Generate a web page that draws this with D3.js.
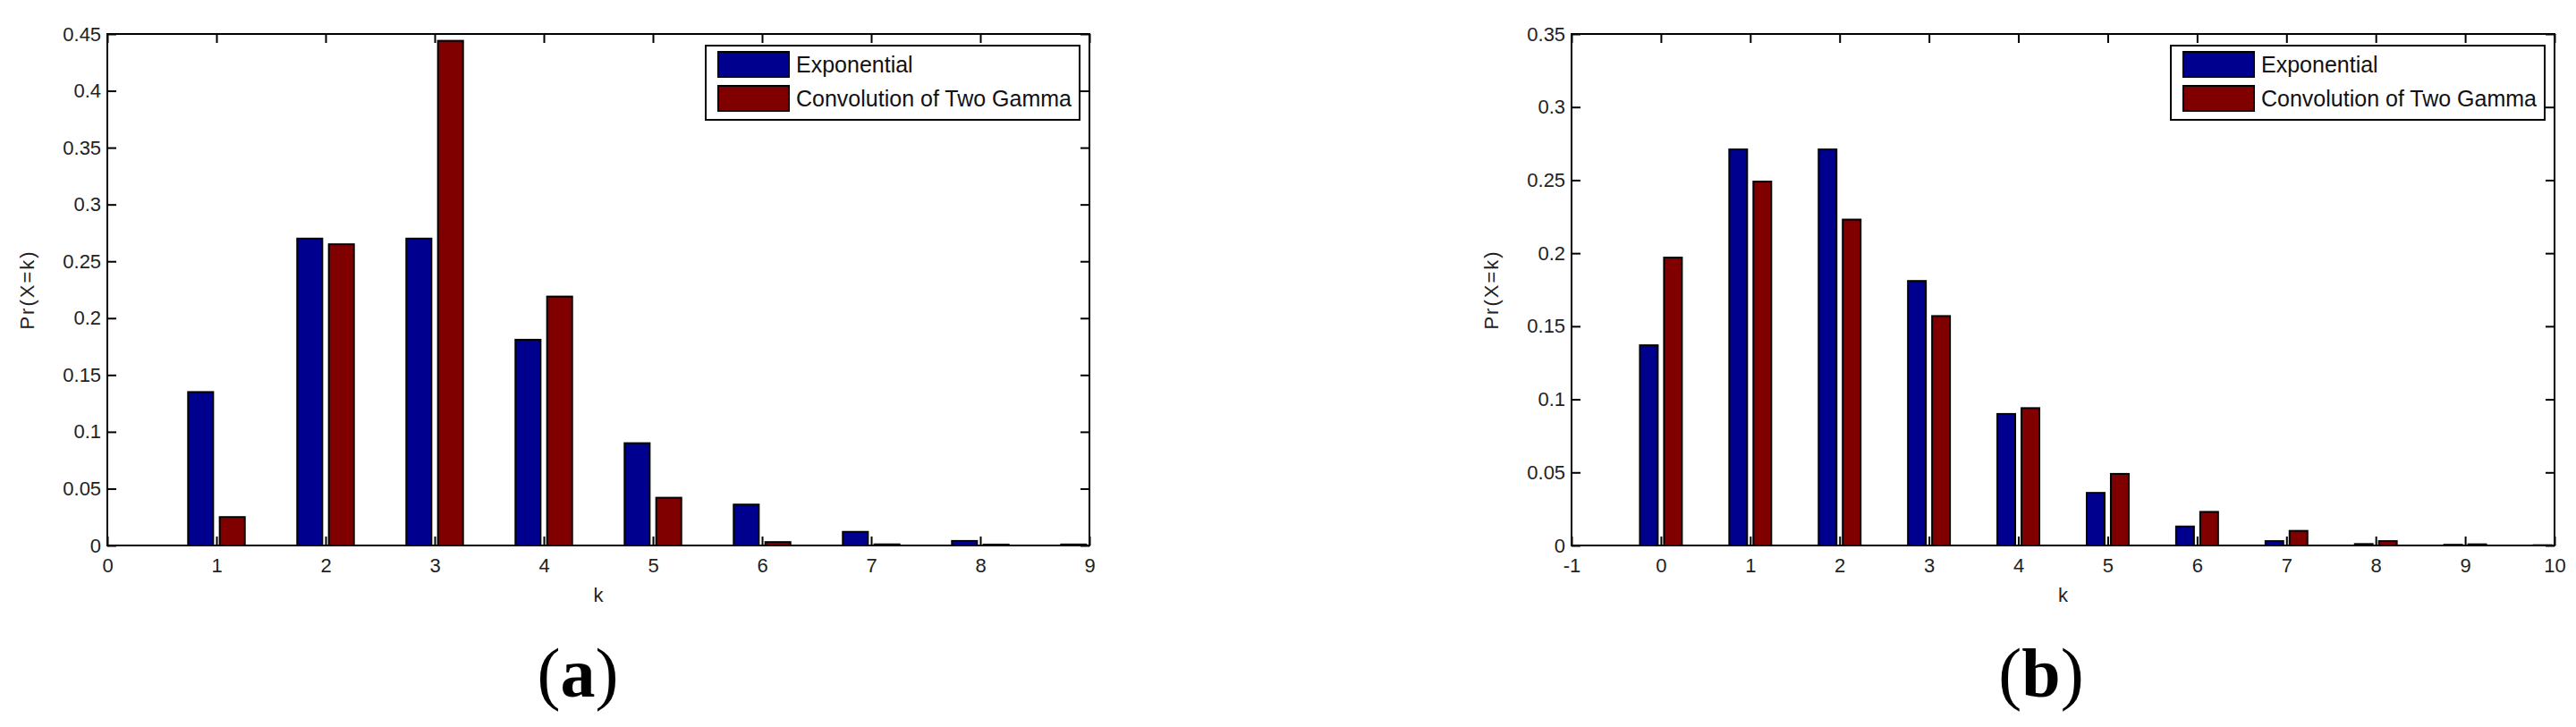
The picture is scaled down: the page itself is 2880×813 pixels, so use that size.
<!DOCTYPE html>
<html>
<head>
<meta charset="utf-8">
<script src="https://d3js.org/d3.v7.min.js"></script>
<style>
  body { margin: 0; background: #fff; }
  svg { display: block; }
  .tick text { font-family: "Liberation Sans", Arial, sans-serif; font-size: 22px; fill: #222; }
  .lbl { font-family: "Liberation Sans", Arial, sans-serif; font-size: 22px; fill: #222; }
  .leg { font-family: "Liberation Sans", Arial, sans-serif; font-size: 25px; fill: #111; }
  .cap { font-family: "Liberation Serif", "Times New Roman", serif; font-size: 78px; fill: #000; }
</style>
</head>
<body>
<svg id="fig" width="2880" height="813"></svg>
<script>
// panel (a)
var kA = [1, 2, 3, 4, 5, 6, 7, 8, 9];
var expA = [0.135, 0.270, 0.270, 0.181, 0.090, 0.036, 0.012, 0.004, 0.0009];
var convA = [0.025, 0.265, 0.444, 0.219, 0.042, 0.003, 0.001, 0.0008, 0.0003];
var xTicksA = [0, 1, 2, 3, 4, 5, 6, 7, 8, 9];
var yTicksA = [0, 0.05, 0.1, 0.15, 0.2, 0.25, 0.3, 0.35, 0.4, 0.45];

// panel (b)
var kB = [0, 1, 2, 3, 4, 5, 6, 7, 8, 9, 10];
var expB = [0.137, 0.271, 0.271, 0.181, 0.090, 0.036, 0.013, 0.003, 0.001, 0.0005, 0.0002];
var convB = [0.197, 0.249, 0.223, 0.157, 0.094, 0.049, 0.023, 0.010, 0.003, 0.0008, 0.0003];
var xTicksB = [-1, 0, 1, 2, 3, 4, 5, 6, 7, 8, 9, 10];
var yTicksB = [0, 0.05, 0.1, 0.15, 0.2, 0.25, 0.3, 0.35];

var seriesNames = ["Exponential", "Convolution of Two Gamma"];
var colors = ["#00008f", "#800000"];

var svg = d3.select("#fig");
svg.append("rect").attr("width", 2880).attr("height", 813).attr("fill", "#fff");

var panels = [
  { id: "a", caption: "a", k: kA, series: [expA, convA], xTicks: xTicksA, yTicks: yTicksA,
    xDom: [0, 9], yDom: [0, 0.45], left: 120, right: 1218, top: 38, bottom: 610,
    off: 0.145, barW: 0.23, capX: 646 },
  { id: "b", caption: "b", k: kB, series: [expB, convB], xTicks: xTicksB, yTicks: yTicksB,
    xDom: [-1, 10], yDom: [0, 0.35], left: 1757, right: 2856, top: 38, bottom: 610,
    off: 0.135, barW: 0.2, capX: 2282 }
];

panels.forEach(function (p) {
  var x = d3.scaleLinear().domain(p.xDom).range([p.left, p.right]);
  var y = d3.scaleLinear().domain(p.yDom).range([p.bottom, p.top]);
  var w = p.right - p.left, h = p.bottom - p.top;
  var g = svg.append("g");

  g.append("clipPath").attr("id", "clip-" + p.id)
    .append("rect").attr("x", p.left).attr("y", p.top).attr("width", w).attr("height", h);

  // bars
  var bars = g.append("g").attr("clip-path", "url(#clip-" + p.id + ")");
  p.series.forEach(function (vals, si) {
    var sign = si === 0 ? -1 : 1;
    bars.selectAll(".bar" + si)
      .data(vals)
      .enter().append("rect")
      .attr("x", function (d, i) { return x(p.k[i] + sign * p.off - p.barW / 2); })
      .attr("width", function (d, i) { return x(p.k[i] + p.barW / 2) - x(p.k[i] - p.barW / 2); })
      .attr("y", function (d) { return y(d); })
      .attr("height", function (d) { return y(0) - y(d); })
      .attr("fill", colors[si])
      .attr("stroke", "#000")
      .attr("stroke-width", 2);
  });

  // axes (ticks point inward, mirrored on top/right)
  var fmt = function (d) { return String(+d.toFixed(2)); };
  var axB = g.append("g").attr("transform", "translate(0," + p.bottom + ")")
    .call(d3.axisBottom(x).tickValues(p.xTicks).tickFormat(fmt).tickSizeInner(-10).tickSizeOuter(0).tickPadding(14));
  var axT = g.append("g").attr("transform", "translate(0," + p.top + ")")
    .call(d3.axisTop(x).tickValues(p.xTicks).tickFormat("").tickSizeInner(-10).tickSizeOuter(0));
  var axL = g.append("g").attr("transform", "translate(" + p.left + ",0)")
    .call(d3.axisLeft(y).tickValues(p.yTicks).tickFormat(fmt).tickSizeInner(-10).tickSizeOuter(0).tickPadding(8));
  var axR = g.append("g").attr("transform", "translate(" + p.right + ",0)")
    .call(d3.axisRight(y).tickValues(p.yTicks).tickFormat("").tickSizeInner(-10).tickSizeOuter(0));
  [axB, axT, axL, axR].forEach(function (a) {
    a.selectAll(".domain").remove();
    a.selectAll(".tick line").attr("stroke", "#000").attr("stroke-width", 2);
  });
  axL.selectAll(".tick text").attr("dx", "0.05em");

  g.append("rect")
    .attr("x", p.left).attr("y", p.top).attr("width", w).attr("height", h)
    .attr("fill", "none").attr("stroke", "#000").attr("stroke-width", 2);

  // axis labels
  g.append("text").attr("class", "lbl")
    .attr("x", (p.left + p.right) / 2).attr("y", 667)
    .attr("text-anchor", "middle").attr("dominant-baseline", "middle")
    .text("k");
  g.append("text").attr("class", "lbl")
    .attr("transform", "translate(" + (p.left - 88) + "," + ((p.top + p.bottom) / 2) + ") rotate(-90)")
    .attr("text-anchor", "middle").attr("dominant-baseline", "middle")
    .style("letter-spacing", "2px")
    .text("Pr(X=k)");

  // legend
  var lx = p.right - 11 - 418, ly = 51;
  var leg = g.append("g");
  leg.append("rect").attr("x", lx).attr("y", ly).attr("width", 418).attr("height", 83)
    .attr("fill", "#fff").attr("stroke", "#000").attr("stroke-width", 2);
  seriesNames.forEach(function (name, i) {
    var sy = ly + 7 + i * 38;
    leg.append("rect").attr("x", lx + 14).attr("y", sy).attr("width", 79).attr("height", 28)
      .attr("fill", colors[i]).attr("stroke", "#000").attr("stroke-width", 2);
    leg.append("text").attr("class", "leg")
      .attr("x", lx + 101).attr("y", sy + 16)
      .attr("dominant-baseline", "middle")
      .text(name);
  });

  // caption
  var cap = g.append("text").attr("class", "cap")
    .attr("x", p.capX).attr("y", 779).attr("text-anchor", "middle");
  cap.append("tspan").text("(");
  cap.append("tspan").attr("font-weight", "bold").text(p.caption);
  cap.append("tspan").text(")");
});
</script>
</body>
</html>
